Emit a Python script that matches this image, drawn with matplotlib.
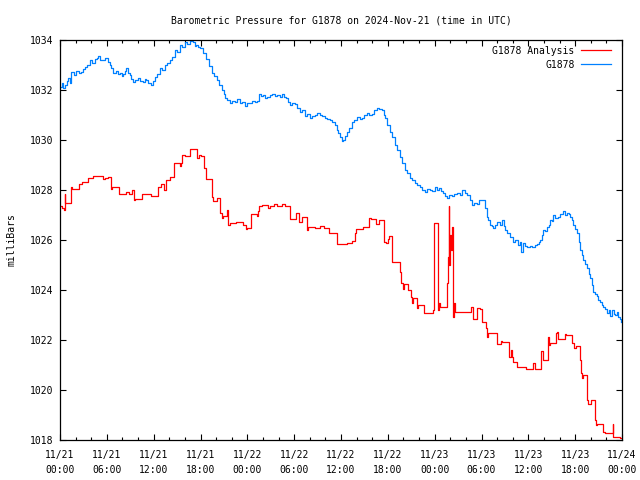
import matplotlib
matplotlib.use("Agg")
import matplotlib.pyplot as plt
import matplotlib.dates as mdates
import pandas as pd

START = "2024-11-21 00:00"
TITLE = "Barometric Pressure for G1878 on 2024-Nov-21 (time in UTC)"

# G1878 station readings (hours after start, mbar)
obs_hours = [
    0.0, 0.26, 0.38, 0.64, 0.90, 1.02, 1.28, 1.41, 1.79, 2.05, 2.43, 2.69, 2.95, 3.20, 3.46,
    3.84, 4.10, 4.48, 4.74, 4.87, 5.12, 5.51, 5.76, 6.15, 6.41, 6.53, 6.79, 7.17, 7.43, 7.69,
    7.94, 8.07, 8.33, 8.46, 8.71, 8.97, 9.10, 9.35, 9.61, 9.99, 10.25, 10.63, 10.89, 11.02,
    11.27, 11.66, 11.91, 12.17, 12.43, 12.81, 13.07, 13.45, 13.71, 14.09, 14.35, 14.73, 14.99,
    15.37, 15.63, 16.01, 16.27, 16.65, 17.04, 17.29, 17.42, 17.68, 17.94, 18.32, 18.70, 19.09,
    19.47, 19.73, 20.11, 20.37, 20.75, 21.01, 21.14, 21.39, 21.78, 22.03, 22.42, 22.67, 23.06,
    23.31, 23.70, 23.96, 24.34, 24.60, 24.98, 25.24, 25.49, 25.75, 26.01, 26.26, 26.52, 26.90,
    27.16, 27.54, 27.80, 28.18, 28.44, 28.70, 28.95, 29.21, 29.46, 29.72, 30.11, 30.36, 30.75,
    31.00, 31.39, 31.64, 32.03, 32.28, 32.67, 32.92, 33.31, 33.56, 33.95, 34.20, 34.59, 34.84,
    35.23, 35.49, 35.61, 35.87, 36.13, 36.25, 36.51, 36.77, 37.02, 37.41, 37.66, 38.05, 38.43,
    38.69, 38.94, 39.33, 39.58, 39.97, 40.22, 40.61, 40.87, 41.25, 41.51, 41.63, 41.89, 42.28,
    42.53, 42.92, 43.17, 43.56, 43.81, 44.20, 44.45, 44.84, 45.09, 45.48, 45.73, 46.12, 46.38,
    46.76, 47.02, 47.40, 47.66, 48.04, 48.30, 48.55, 48.81, 49.06, 49.32, 49.58, 49.83, 50.22,
    50.47, 50.86, 51.24, 51.50, 51.88, 52.14, 52.52, 52.78, 53.04, 53.42, 53.68, 54.06, 54.45,
    54.70, 54.83, 55.09, 55.34, 55.47, 55.73, 55.98, 56.37, 56.62, 56.88, 57.01, 57.26, 57.39,
    57.65, 58.03, 58.29, 58.67, 58.93, 59.06, 59.31, 59.57, 59.83, 60.21, 60.47, 60.85, 61.11,
    61.36, 61.49, 61.75, 61.88, 62.13, 62.39, 62.65, 62.77, 63.03, 63.16, 63.41, 63.80, 64.05,
    64.44, 64.69, 64.95, 65.21, 65.33, 65.59, 65.72, 65.97, 66.23, 66.49, 66.61, 66.87, 67.00,
    67.25, 67.51, 67.77, 67.90, 68.15, 68.28, 68.54, 68.79, 68.92, 69.18, 69.43, 69.56, 69.82,
    70.07, 70.33, 70.46, 70.71, 70.97, 71.10, 71.35, 71.48, 71.74, 71.87,
]
obs_mbar = [
    1032.12, 1032.28, 1032.10, 1032.20, 1032.36, 1032.48, 1032.30, 1032.72, 1032.60, 1032.76,
    1032.68, 1032.72, 1032.84, 1032.92, 1033.00, 1033.20, 1033.08, 1033.24, 1033.30, 1033.36,
    1033.20, 1033.20, 1033.28, 1033.12, 1033.00, 1032.88, 1032.70, 1032.76, 1032.64, 1032.68,
    1032.56, 1032.64, 1032.76, 1032.88, 1032.70, 1032.60, 1032.44, 1032.32, 1032.40, 1032.48,
    1032.36, 1032.32, 1032.44, 1032.40, 1032.28, 1032.20, 1032.36, 1032.52, 1032.64, 1032.88,
    1032.80, 1033.00, 1033.08, 1033.20, 1033.32, 1033.60, 1033.52, 1033.80, 1033.72, 1033.92,
    1033.84, 1033.96, 1033.90, 1033.76, 1033.80, 1033.72, 1033.68, 1033.48, 1033.24, 1032.96,
    1032.68, 1032.56, 1032.40, 1032.20, 1032.00, 1031.84, 1031.68, 1031.60, 1031.48, 1031.56,
    1031.52, 1031.64, 1031.48, 1031.52, 1031.36, 1031.48, 1031.48, 1031.56, 1031.52, 1031.56,
    1031.84, 1031.76, 1031.80, 1031.70, 1031.72, 1031.80, 1031.84, 1031.76, 1031.80, 1031.72,
    1031.84, 1031.72, 1031.68, 1031.52, 1031.40, 1031.50, 1031.44, 1031.28, 1031.12, 1031.20,
    1030.96, 1031.04, 1030.88, 1030.96, 1031.00, 1031.10, 1031.00, 1030.96, 1030.88, 1030.84,
    1030.80, 1030.72, 1030.60, 1030.40, 1030.28, 1030.12, 1029.96, 1030.00, 1030.16, 1030.32,
    1030.48, 1030.72, 1030.80, 1030.92, 1030.84, 1030.88, 1031.00, 1031.08, 1031.00, 1031.04,
    1031.20, 1031.28, 1031.24, 1031.20, 1031.00, 1030.88, 1030.60, 1030.32, 1030.12, 1029.80,
    1029.60, 1029.32, 1029.08, 1028.80, 1028.68, 1028.48, 1028.40, 1028.28, 1028.20, 1028.12,
    1028.00, 1027.92, 1028.04, 1028.00, 1027.96, 1028.12, 1028.00, 1028.08, 1027.96, 1027.88,
    1027.76, 1027.68, 1027.80, 1027.76, 1027.84, 1027.88, 1027.80, 1028.00, 1027.88, 1027.80,
    1027.60, 1027.40, 1027.50, 1027.44, 1027.60, 1027.60, 1027.28, 1026.92, 1026.80, 1026.60,
    1026.56, 1026.50, 1026.60, 1026.73, 1026.60, 1026.80, 1026.56, 1026.40, 1026.30, 1026.27,
    1026.12, 1025.92, 1026.00, 1025.80, 1025.90, 1025.52, 1025.87, 1025.76, 1025.73, 1025.76,
    1025.73, 1025.80, 1025.84, 1025.90, 1026.00, 1026.20, 1026.40, 1026.36, 1026.53, 1026.60,
    1026.80, 1026.76, 1027.00, 1026.88, 1026.93, 1027.04, 1027.16, 1027.00, 1027.07, 1027.04,
    1026.93, 1026.80, 1026.60, 1026.44, 1026.27, 1025.92, 1025.60, 1025.40, 1025.20, 1025.04,
    1024.88, 1024.64, 1024.48, 1024.20, 1023.92, 1023.84, 1023.76, 1023.60, 1023.52, 1023.40,
    1023.32, 1023.24, 1023.08, 1023.20, 1022.96, 1023.20, 1023.04, 1023.00, 1023.12, 1022.92,
    1022.84, 1022.72,
]

# G1878 Analysis (hours after start, mbar)
ana_hours = [
    0.0, 0.30, 0.51, 0.64, 0.70, 0.77, 1.41, 1.60, 2.43, 2.82, 3.59, 4.23, 5.51, 5.80, 6.15,
    6.53, 6.70, 7.56, 8.46, 8.80, 9.22, 9.45, 9.61, 10.50, 11.66, 12.55, 12.94, 13.32, 13.58,
    14.09, 14.60, 15.37, 15.50, 15.63, 16.00, 16.65, 17.55, 17.80, 18.10, 18.45, 18.70, 19.47,
    19.60, 20.11, 20.50, 20.75, 20.88, 21.39, 21.52, 21.78, 22.55, 23.44, 23.83, 23.96, 24.47,
    25.20, 25.37, 25.49, 25.88, 26.65, 26.90, 27.40, 27.80, 28.40, 28.80, 29.46, 30.23, 30.62,
    31.00, 31.64, 31.77, 32.67, 33.30, 33.80, 34.46, 35.49, 36.77, 37.41, 37.79, 37.92, 38.81,
    39.59, 39.84, 40.48, 40.87, 41.51, 41.77, 42.02, 42.15, 42.53, 43.56, 43.68, 43.94, 44.07,
    44.58, 44.97, 45.09, 45.22, 45.73, 45.86, 46.63, 47.78, 47.91, 48.42, 48.55, 48.68, 49.58,
    49.71, 49.83, 49.90, 49.96, 50.10, 50.22, 50.35, 50.45, 50.60, 52.65, 52.91, 53.42, 53.80,
    54.06, 54.58, 54.71, 54.83, 55.98, 56.50, 56.62, 57.52, 57.78, 57.90, 58.03, 58.55, 59.70,
    60.59, 60.85, 61.62, 61.88, 62.52, 62.64, 62.77, 63.54, 63.67, 63.80, 64.69, 64.82, 65.59,
    65.85, 66.10, 66.60, 66.74, 66.87, 67.00, 67.51, 67.64, 68.02, 68.54, 68.66, 68.79, 69.56,
    69.82, 70.84, 70.90, 71.74, 72.0,
]
ana_mbar = [
    1027.36, 1027.30, 1027.22, 1027.84, 1027.50, 1027.48, 1028.12, 1028.04, 1028.24, 1028.32,
    1028.48, 1028.56, 1028.44, 1028.50, 1028.53, 1028.04, 1028.12, 1027.84, 1027.92, 1027.86,
    1028.00, 1027.60, 1027.64, 1027.84, 1027.76, 1028.12, 1028.24, 1028.00, 1028.40, 1028.52,
    1029.08, 1028.96, 1029.08, 1029.40, 1029.36, 1029.64, 1029.28, 1029.40, 1029.36, 1028.88,
    1028.44, 1027.72, 1027.56, 1027.68, 1027.08, 1026.88, 1026.96, 1027.20, 1026.60, 1026.68,
    1026.72, 1026.60, 1026.44, 1026.48, 1027.04, 1026.96, 1027.17, 1027.36, 1027.40, 1027.27,
    1027.36, 1027.44, 1027.36, 1027.42, 1027.36, 1026.84, 1027.07, 1026.72, 1026.92, 1026.40,
    1026.53, 1026.50, 1026.56, 1026.50, 1026.28, 1025.84, 1025.87, 1025.96, 1026.28, 1026.44,
    1026.52, 1026.88, 1026.84, 1026.64, 1026.80, 1025.92, 1025.88, 1026.04, 1026.16, 1025.12,
    1024.72, 1024.28, 1024.04, 1024.24, 1024.00, 1023.72, 1023.48, 1023.70, 1023.28, 1023.40,
    1023.08, 1023.20, 1026.68, 1023.20, 1023.50, 1023.32, 1024.30, 1025.32, 1027.36, 1025.00,
    1026.20, 1025.60, 1026.52, 1022.92, 1023.50, 1023.12, 1023.32, 1022.84, 1023.28, 1023.24,
    1022.72, 1022.47, 1022.12, 1022.28, 1021.84, 1021.96, 1021.92, 1021.32, 1021.60, 1021.32,
    1021.12, 1020.92, 1020.84, 1021.08, 1020.84, 1021.56, 1021.20, 1022.12, 1021.80, 1021.87,
    1022.28, 1022.33, 1022.04, 1022.24, 1022.20, 1021.90, 1021.68, 1021.75, 1021.20, 1020.68,
    1020.48, 1020.60, 1019.60, 1019.44, 1019.60, 1018.80, 1018.60, 1018.64, 1018.32, 1018.28,
    1018.64, 1018.12, 1018.08, 1018.08,
]

RED = "#ff0000"
BLUE = "#0080ff"
FONT = "DejaVu Sans Mono"
FS = 7

start = pd.Timestamp(START)
obs_t = start + pd.to_timedelta(obs_hours, unit="h")
ana_t = start + pd.to_timedelta(ana_hours, unit="h")

plt.rcParams["font.family"] = FONT
plt.rcParams["font.size"] = FS

fig = plt.figure(figsize=(6.4, 4.8), dpi=100, facecolor="white")
ax = fig.add_axes([60 / 640, 40 / 480, 562 / 640, 400 / 480])

ax.plot(ana_t, ana_mbar, color=RED, lw=0.9, drawstyle="steps-post", label="G1878 Analysis")
ax.plot(obs_t, obs_mbar, color=BLUE, lw=0.9, drawstyle="steps-post", label="G1878")

ax.set_xlim(start, start + pd.Timedelta(hours=72))
ax.set_ylim(1018, 1034)
ax.set_yticks(range(1018, 1035, 2))
ax.xaxis.set_major_locator(mdates.HourLocator(byhour=range(0, 24, 6)))
ax.xaxis.set_minor_locator(mdates.HourLocator(byhour=range(0, 24, 2)))
ax.xaxis.set_major_formatter(mdates.DateFormatter("%m/%d\n%H:%M"))

ax.tick_params(which="both", direction="in", top=True, right=True, colors="black", labelsize=FS)
ax.tick_params(which="major", length=4.5, width=0.8)
ax.tick_params(which="minor", length=2.5, width=0.8)
ax.tick_params(axis="y", pad=5)
ax.tick_params(axis="x", pad=7)
for spine in ax.spines.values():
    spine.set_linewidth(0.9)
    spine.set_color("black")

ax.set_title(TITLE, fontsize=FS, pad=12)
fig.text(12 / 640, 0.5, "milliBars", rotation=90, ha="center", va="center", fontsize=FS)

ax.legend(loc="upper right", frameon=False, markerfirst=False, handlelength=3.0,
          handletextpad=0.7, labelspacing=0.4, borderaxespad=0.2,
          bbox_to_anchor=(0.99, 1.0), fontsize=FS)

fig.canvas.draw()
for lbl in ax.get_xticklabels():
    lbl.set_linespacing(1.7)

fig.savefig("out.png", dpi=100, facecolor="white")
plt.close(fig)
